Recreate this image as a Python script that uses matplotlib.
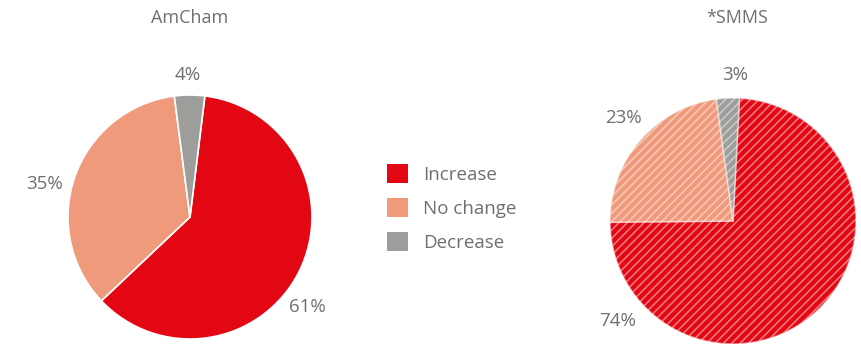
import matplotlib.pyplot as plt
import matplotlib as mpl

plt.rcParams['font.family'] = ['Open Sans', 'DejaVu Sans']

W, H = 861, 346

categories = ['Increase', 'No change', 'Decrease']
colors = ['#E30613', '#F09A7C', '#9D9D9C']
text_gray = '#6F6F6F'

amcham = [61, 35, 4]
smms = [74, 23, 3]
amcham_labels = ['61%', '35%', '4%']
smms_labels = ['74%', '23%', '3%']

fig = plt.figure(figsize=(W / 100, H / 100), dpi=100)


def pie_axes(cx, cy, r):
  # axes placed in pixel coords of the reference
  return fig.add_axes([(cx - r) / W, (H - cy - r) / H, 2 * r / W, 2 * r / H])


# ---- AmCham ----
ax1 = pie_axes(190, 217, 122)
wedges, _ = ax1.pie(amcham, colors=colors, startangle=83, counterclock=False,
                    radius=1, wedgeprops=dict(edgecolor='white', linewidth=1.2))
ax1.set_xlim(-1, 1)
ax1.set_ylim(-1, 1)
ax1.set_aspect('equal')
ax1.axis('off')
pos1 = [(0.96, -0.74), (-1.19, 0.27), (-0.02, 1.16)]
for (x, y), lab in zip(pos1, amcham_labels):
  ax1.text(x, y, lab, ha='center', va='center', fontsize=13.5,
           fontweight='medium', color=text_gray, clip_on=False)

# ---- SMMS ----
mpl.rcParams['hatch.linewidth'] = 1.2
ax2 = pie_axes(733, 221, 123)
wedges2, _ = ax2.pie(smms, colors=colors, startangle=87, counterclock=False,
                     radius=1, wedgeprops=dict(edgecolor='white', linewidth=1.2))
for w in wedges2:
  w.set_hatch('////')
  w.set_edgecolor((1, 1, 1, 0.45))
ax2.set_xlim(-1, 1)
ax2.set_ylim(-1, 1)
ax2.set_aspect('equal')
ax2.axis('off')
pos2 = [(-0.94, -0.81), (-0.89, 0.84), (0.02, 1.19)]
for (x, y), lab in zip(pos2, smms_labels):
  ax2.text(x, y, lab, ha='center', va='center', fontsize=13.5,
           fontweight='medium', color=text_gray, clip_on=False)

# titles
fig.text(190 / W, 1 - 18 / H, 'AmCham', ha='center', va='center',
         fontsize=13, fontweight='medium', color=text_gray)
fig.text(737 / W, 1 - 18 / H, '*SMMS', ha='center', va='center',
         fontsize=13, fontweight='medium', color=text_gray)

# legend
handles = [mpl.patches.Patch(facecolor=c, edgecolor='none') for c in colors]
leg = fig.legend(handles, categories, loc='center left',
                 bbox_to_anchor=(370 / W, 1 - 208 / H), frameon=False,
                 prop=dict(size=13.5, weight='medium'), labelcolor=text_gray,
                 handlelength=1.15, handleheight=1.15, handletextpad=0.8,
                 labelspacing=0.75)

fig.savefig('out.png', dpi=100)
